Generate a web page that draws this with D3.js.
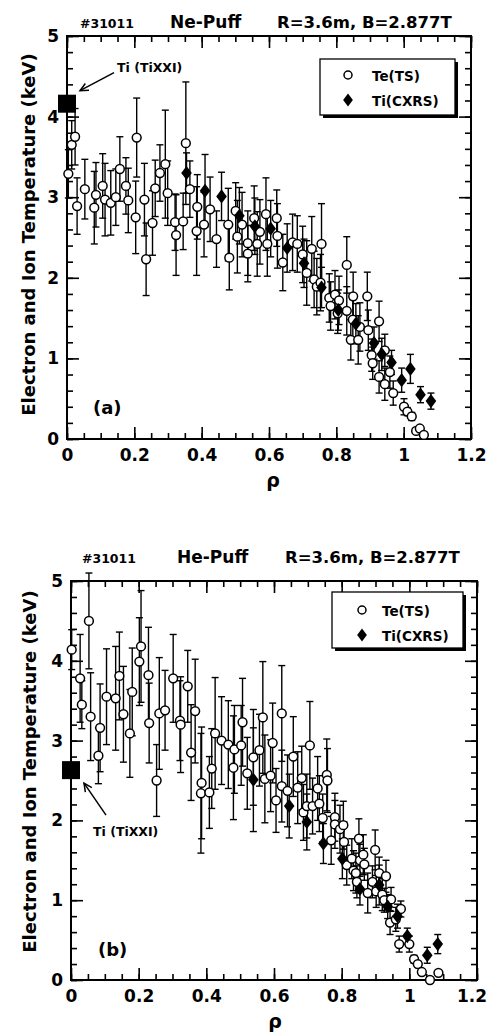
<!DOCTYPE html>
<html>
<head>
<meta charset="utf-8">
<script src="https://cdn.jsdelivr.net/npm/d3@7"></script>
<style>
  body { margin: 0; background: #fff; }
  svg text { font-family: "DejaVu Sans", sans-serif; font-weight: bold; fill: #000; }
</style>
</head>
<body>
<svg id="chart" width="488" height="1032"></svg>
<script>
// ---- data ----
const xTicks = [0, 0.2, 0.4, 0.6, 0.8, 1, 1.2];
const yTicks = [0, 1, 2, 3, 4, 5];
const shotLabel = "#31011";
const machineLabel = "R=3.6m, B=2.877T";
const yLabel = "Electron and Ion Temperature (keV)";
const xLabel = "ρ";
const legendLabels = ["Te(TS)", "Ti(CXRS)"];
const tixxiLabel = "Ti (TiXXI)";

// [rho, T (keV), error]
const neTe = [
  [0.004, 3.29, 0.30], [0.014, 3.65, 0.30], [0.024, 3.75, 0.35], [0.030, 2.89, 0.35],
  [0.053, 3.10, 0.37], [0.081, 2.87, 0.45], [0.086, 3.03, 0.40], [0.106, 3.14, 0.40],
  [0.113, 2.97, 0.45], [0.130, 2.93, 0.40], [0.145, 3.00, 0.35], [0.157, 3.35, 0.40],
  [0.175, 3.14, 0.35], [0.182, 2.96, 0.40], [0.204, 2.75, 0.45], [0.207, 3.74, 0.49],
  [0.230, 2.97, 0.45], [0.235, 2.23, 0.45], [0.254, 2.68, 0.40], [0.262, 3.11, 0.35],
  [0.276, 3.30, 0.35], [0.292, 3.41, 0.67], [0.299, 3.05, 0.40], [0.321, 2.69, 0.35],
  [0.324, 2.53, 0.50], [0.345, 2.70, 0.35], [0.353, 3.67, 0.76], [0.365, 3.10, 0.35],
  [0.385, 2.58, 0.55], [0.387, 2.88, 0.40], [0.407, 2.66, 0.40], [0.425, 2.85, 0.40],
  [0.444, 2.48, 0.35], [0.479, 2.66, 0.45], [0.482, 2.25, 0.40], [0.501, 2.83, 0.35],
  [0.506, 2.51, 0.45], [0.520, 2.66, 0.40], [0.537, 2.43, 0.40], [0.537, 2.30, 0.35],
  [0.556, 2.74, 0.40], [0.565, 2.42, 0.40], [0.573, 2.57, 0.40], [0.591, 2.79, 0.45],
  [0.595, 2.42, 0.40], [0.623, 2.74, 0.35], [0.625, 2.52, 0.40], [0.641, 2.19, 0.35],
  [0.670, 2.44, 0.35], [0.684, 2.42, 0.35], [0.700, 2.29, 0.35], [0.712, 2.06, 0.40],
  [0.727, 2.36, 0.40], [0.734, 1.98, 0.35], [0.742, 1.89, 0.35], [0.756, 2.42, 0.50],
  [0.753, 1.94, 0.35], [0.779, 1.75, 0.30], [0.783, 1.65, 0.30], [0.796, 1.79, 0.30],
  [0.804, 1.56, 0.25], [0.808, 1.72, 0.30], [0.831, 2.16, 0.35], [0.831, 1.59, 0.30],
  [0.843, 1.23, 0.25], [0.849, 1.48, 0.25], [0.850, 1.77, 0.30], [0.865, 1.23, 0.30],
  [0.870, 1.39, 0.30], [0.892, 1.77, 0.30], [0.895, 1.35, 0.25], [0.905, 1.04, 0.20],
  [0.908, 0.94, 0.20], [0.927, 1.46, 0.25], [0.927, 0.77, 0.20], [0.944, 1.10, 0.20],
  [0.944, 0.68, 0.20], [0.959, 0.83, 0.20], [0.969, 0.57, 0.15], [1.001, 0.40, 0.10],
  [1.011, 0.34, 0.05], [1.024, 0.28, 0.05], [1.037, 0.10, 0], [1.048, 0.13, 0],
  [1.060, 0.05, 0]
];
const neTi = [
  [0.355, 3.30, 0.25], [0.410, 3.08, 0.45], [0.459, 3.01, 0.30], [0.512, 2.77, 0.35],
  [0.558, 2.64, 0.35], [0.605, 2.61, 0.35], [0.654, 2.37, 0.30], [0.704, 2.18, 0.30],
  [0.756, 1.88, 0.25], [0.806, 1.60, 0.25], [0.858, 1.43, 0.25], [0.912, 1.19, 0.20],
  [0.935, 1.05, 0.20], [0.964, 0.95, 0.15], [0.994, 0.73, 0.15], [1.020, 0.87, 0.18],
  [1.050, 0.55, 0.10], [1.081, 0.47, 0.10]
];
const neTiXXI = [[0, 4.16]];

const heTe = [
  [0.002, 4.14, 0.25], [0.027, 3.78, 0.55], [0.032, 3.45, 0.30], [0.053, 4.50, 0.60],
  [0.058, 3.30, 0.55], [0.081, 2.81, 0.35], [0.086, 3.16, 0.55], [0.105, 3.55, 0.60],
  [0.132, 3.53, 0.65], [0.143, 3.81, 0.55], [0.155, 3.33, 0.60], [0.174, 3.09, 0.55],
  [0.181, 3.61, 0.55], [0.202, 3.99, 0.55], [0.207, 4.18, 0.70], [0.229, 3.82, 0.60],
  [0.231, 3.22, 0.50], [0.253, 2.50, 0.45], [0.261, 3.34, 0.70], [0.278, 3.38, 0.50],
  [0.302, 3.78, 0.55], [0.322, 3.25, 0.50], [0.324, 3.20, 0.60], [0.345, 3.68, 0.45],
  [0.355, 2.85, 0.60], [0.367, 3.37, 0.65], [0.384, 2.34, 0.75], [0.386, 2.47, 0.70],
  [0.409, 2.35, 0.45], [0.416, 2.65, 0.50], [0.426, 3.09, 0.70], [0.445, 3.00, 0.55],
  [0.465, 2.95, 0.55], [0.480, 2.66, 0.65], [0.483, 2.89, 0.55], [0.503, 2.94, 0.50],
  [0.507, 3.23, 0.55], [0.521, 2.59, 0.45], [0.539, 2.79, 0.60], [0.557, 2.88, 0.45],
  [0.567, 3.29, 0.70], [0.573, 2.52, 0.55], [0.590, 2.56, 0.45], [0.596, 2.97, 0.50],
  [0.606, 2.25, 0.40], [0.623, 3.34, 0.60], [0.623, 2.43, 0.45], [0.640, 2.37, 0.45],
  [0.657, 2.80, 0.50], [0.670, 2.41, 0.45], [0.682, 2.53, 0.40], [0.687, 2.10, 0.35],
  [0.697, 2.18, 0.40], [0.706, 2.94, 0.55], [0.714, 2.18, 0.35], [0.729, 2.40, 0.40],
  [0.734, 2.21, 0.35], [0.744, 2.03, 0.30], [0.756, 2.57, 0.45], [0.758, 2.50, 0.40],
  [0.769, 1.75, 0.30], [0.780, 2.04, 0.30], [0.780, 1.95, 0.30], [0.795, 1.89, 0.30],
  [0.805, 1.94, 0.30], [0.807, 1.73, 0.25], [0.815, 1.44, 0.25], [0.830, 1.52, 0.25],
  [0.835, 1.37, 0.25], [0.842, 1.34, 0.25], [0.845, 1.23, 0.20], [0.851, 1.77, 0.25],
  [0.854, 1.50, 0.20], [0.864, 1.57, 0.25], [0.867, 1.45, 0.20], [0.877, 1.09, 0.25],
  [0.891, 1.23, 0.20], [0.899, 1.63, 0.25], [0.902, 1.11, 0.20], [0.911, 1.34, 0.20],
  [0.920, 1.07, 0.20], [0.926, 1.00, 0.15], [0.931, 1.30, 0.20], [0.943, 0.72, 0.15],
  [0.946, 1.01, 0.15], [0.960, 0.76, 0.15], [0.970, 0.45, 0.10], [0.975, 0.89, 0.10],
  [1.000, 0.45, 0.10], [1.014, 0.26, 0.05], [1.025, 0.20, 0], [1.037, 0.10, 0],
  [1.061, 0.00, 0], [1.086, 0.09, 0]
];
const heTi = [
  [0.539, 2.51, 0.65], [0.645, 2.18, 0.40], [0.697, 1.98, 0.35], [0.746, 1.71, 0.25],
  [0.802, 1.52, 0.25], [0.854, 1.14, 0.20], [0.911, 1.19, 0.25], [0.936, 0.92, 0.15],
  [0.965, 0.80, 0.15], [0.994, 0.55, 0.10], [1.053, 0.31, 0.10], [1.084, 0.45, 0.12]
];
const heTiXXI = [[0, 2.63]];

// ---- layout ----
const panels = [
  {
    gas: "Ne-Puff", tag: "(a)", te: neTe, ti: neTi, tixxi: neTiXXI,
    box: { left: 67, right: 471, top: 36, bottom: 439 },
    titleY: 28, titleX: [80, 170, 277],
    yLabelPos: [35, 234.5], xLabelPos: [273, 487], tagPos: [93, 414],
    legend: { x: 320, y: 59, w: 135, h: 56, mark: 348, text: 372, rows: [75, 100] },
    arrow: { tip: [13, -13], tail: [47, -31], text: [50, -32] }
  },
  {
    gas: "He-Puff", tag: "(b)", te: heTe, ti: heTi, tixxi: heTiXXI,
    box: { left: 71, right: 477, top: 581, bottom: 980 },
    titleY: 563, titleX: [82, 177, 285],
    yLabelPos: [36, 771.5], xLabelPos: [275, 1028], tagPos: [98, 956],
    legend: { x: 332, y: 592, w: 131, h: 56, mark: 362, text: 382, rows: [610, 635] },
    arrow: { tip: [13, 13], tail: [35, 45], text: [22, 66] }
  }
];

const svg = d3.select("#chart");
const pageWidth = +svg.attr("width");

// tall diamond like the original markers
const tallDiamond = {
  draw(ctx, size) {
    const h = Math.sqrt(size) * 0.62, w = h * 0.75;
    ctx.moveTo(0, -h); ctx.lineTo(w, 0); ctx.lineTo(0, h); ctx.lineTo(-w, 0); ctx.closePath();
  }
};

function styleAxis(g, size) {
  g.attr("font-family", "DejaVu Sans").attr("font-weight", "bold").attr("font-size", size);
  g.select(".domain").remove();
  g.selectAll(".tick line").attr("stroke-width", 1.6);
}

// keep tick labels inside the page
function keepInside(g) {
  g.selectAll(".tick text").each(function () {
    const t = d3.select(this);
    const tick = this.parentNode.getCTM();
    const w = this.getComputedTextLength();
    const over = tick.e + w / 2 - (pageWidth - 1);
    if (over > 0) t.attr("dx", -over);
  });
}

function drawPanel(p) {
  const { box } = p;
  const x = d3.scaleLinear().domain([0, 1.2]).range([box.left, box.right]);
  const y = d3.scaleLinear().domain([0, 5]).range([box.bottom, box.top]);
  const g = svg.append("g");

  const xMinor = d3.range(0, 1.2001, 0.05);
  const yMinor = d3.range(0, 5.001, 0.2);

  // minor ticks, all four sides
  g.append("g").attr("transform", `translate(0,${box.bottom})`)
    .call(d3.axisBottom(x).tickValues(xMinor).tickSize(-6).tickFormat(""))
    .call(a => styleAxis(a, 10));
  g.append("g").attr("transform", `translate(0,${box.top})`)
    .call(d3.axisTop(x).tickValues(xMinor).tickSize(-6).tickFormat(""))
    .call(a => styleAxis(a, 10));
  g.append("g").attr("transform", `translate(${box.left},0)`)
    .call(d3.axisLeft(y).tickValues(yMinor).tickSize(-6).tickFormat(""))
    .call(a => styleAxis(a, 10));
  g.append("g").attr("transform", `translate(${box.right},0)`)
    .call(d3.axisRight(y).tickValues(yMinor).tickSize(-6).tickFormat(""))
    .call(a => styleAxis(a, 10));

  // major ticks
  g.append("g").attr("transform", `translate(0,${box.bottom})`)
    .call(d3.axisBottom(x).tickValues(xTicks).tickSize(-12).tickPadding(10).tickFormat(d3.format("~g")))
    .call(a => styleAxis(a, 17))
    .call(keepInside);
  g.append("g").attr("transform", `translate(0,${box.top})`)
    .call(d3.axisTop(x).tickValues(xTicks).tickSize(-12).tickFormat(""))
    .call(a => styleAxis(a, 10));
  g.append("g").attr("transform", `translate(${box.left},0)`)
    .call(d3.axisLeft(y).tickValues(yTicks).tickSize(-12).tickPadding(8).tickFormat(d3.format("~g")))
    .call(a => styleAxis(a, 17));
  g.append("g").attr("transform", `translate(${box.right},0)`)
    .call(d3.axisRight(y).tickValues(yTicks).tickSize(-12).tickFormat(""))
    .call(a => styleAxis(a, 10));

  // frame
  g.append("rect")
    .attr("x", box.left).attr("y", box.top)
    .attr("width", box.right - box.left).attr("height", box.bottom - box.top)
    .attr("fill", "none").attr("stroke", "#000").attr("stroke-width", 2);

  // error bars
  const bars = g.append("g").attr("stroke", "#000").attr("stroke-width", 1.4);
  [...p.te, ...p.ti].filter(d => d[2] > 0).forEach(d => {
    const cx = x(d[0]), y0 = y(Math.max(0, d[1] - d[2])), y1 = y(d[1] + d[2]);
    bars.append("line").attr("x1", cx).attr("x2", cx).attr("y1", y0).attr("y2", y1);
    bars.append("line").attr("x1", cx - 3.5).attr("x2", cx + 3.5).attr("y1", y0).attr("y2", y0);
    bars.append("line").attr("x1", cx - 3.5).attr("x2", cx + 3.5).attr("y1", y1).attr("y2", y1);
  });

  // Te(TS) open circles
  g.append("g").selectAll("circle").data(p.te).join("circle")
    .attr("cx", d => x(d[0])).attr("cy", d => y(d[1])).attr("r", 4.4)
    .attr("fill", "#fff").attr("stroke", "#000").attr("stroke-width", 1.5);

  // Ti(CXRS) diamonds
  const diamond = d3.symbol().type(tallDiamond).size(130);
  g.append("g").selectAll("path").data(p.ti).join("path")
    .attr("transform", d => `translate(${x(d[0])},${y(d[1])})`)
    .attr("d", diamond).attr("fill", "#000");

  // Ti(TiXXI) square + arrow + label
  p.tixxi.forEach(d => {
    const cx = x(d[0]), cy = y(d[1]);
    g.append("rect").attr("x", cx - 9).attr("y", cy - 9).attr("width", 18).attr("height", 18).attr("fill", "#000");
    const tip = [cx + p.arrow.tip[0], cy + p.arrow.tip[1]];
    const tail = [cx + p.arrow.tail[0], cy + p.arrow.tail[1]];
    const ang = Math.atan2(tail[1] - tip[1], tail[0] - tip[0]);
    const head = [-0.45, 0.45].map(s => [tip[0] + 9 * Math.cos(ang + s), tip[1] + 9 * Math.sin(ang + s)]);
    const ag = g.append("g").attr("stroke", "#000").attr("stroke-width", 1.5).attr("fill", "none");
    ag.append("line").attr("x1", tip[0]).attr("y1", tip[1]).attr("x2", tail[0]).attr("y2", tail[1]);
    ag.append("path").attr("d", `M${head[0][0]},${head[0][1]}L${tip[0]},${tip[1]}L${head[1][0]},${head[1][1]}`);
    g.append("text").attr("x", cx + p.arrow.text[0]).attr("y", cy + p.arrow.text[1])
      .attr("font-size", 12.5).text(tixxiLabel);
  });

  // legend
  const L = p.legend;
  g.append("rect").attr("x", L.x + 3).attr("y", L.y + 3).attr("width", L.w).attr("height", L.h).attr("fill", "#000");
  g.append("rect").attr("x", L.x).attr("y", L.y).attr("width", L.w).attr("height", L.h)
    .attr("fill", "#fff").attr("stroke", "#000").attr("stroke-width", 1.3);
  g.append("circle").attr("cx", L.mark).attr("cy", L.rows[0]).attr("r", 4)
    .attr("fill", "#fff").attr("stroke", "#000").attr("stroke-width", 1.5);
  g.append("path").attr("transform", `translate(${L.mark},${L.rows[1]})`)
    .attr("d", d3.symbol().type(tallDiamond).size(110)).attr("fill", "#000");
  legendLabels.forEach((t, i) => {
    g.append("text").attr("x", L.text).attr("y", L.rows[i] + 5.5).attr("font-size", 13.5).text(t);
  });

  // titles
  g.append("text").attr("x", p.titleX[0]).attr("y", p.titleY).attr("font-size", 12.5).text(shotLabel);
  g.append("text").attr("x", p.titleX[1]).attr("y", p.titleY).attr("font-size", 17).text(p.gas);
  g.append("text").attr("x", p.titleX[2]).attr("y", p.titleY).attr("font-size", 16.5).text(machineLabel);

  // axis titles
  g.append("text").attr("transform", `translate(${p.yLabelPos[0]},${p.yLabelPos[1]}) rotate(-90)`)
    .attr("text-anchor", "middle").attr("font-size", 18).text(yLabel);
  g.append("text").attr("x", p.xLabelPos[0]).attr("y", p.xLabelPos[1])
    .attr("text-anchor", "middle").attr("font-size", 19).text(xLabel);

  // panel tag
  g.append("text").attr("x", p.tagPos[0]).attr("y", p.tagPos[1]).attr("font-size", 18).text(p.tag);
}

panels.forEach(drawPanel);
</script>
</body>
</html>
